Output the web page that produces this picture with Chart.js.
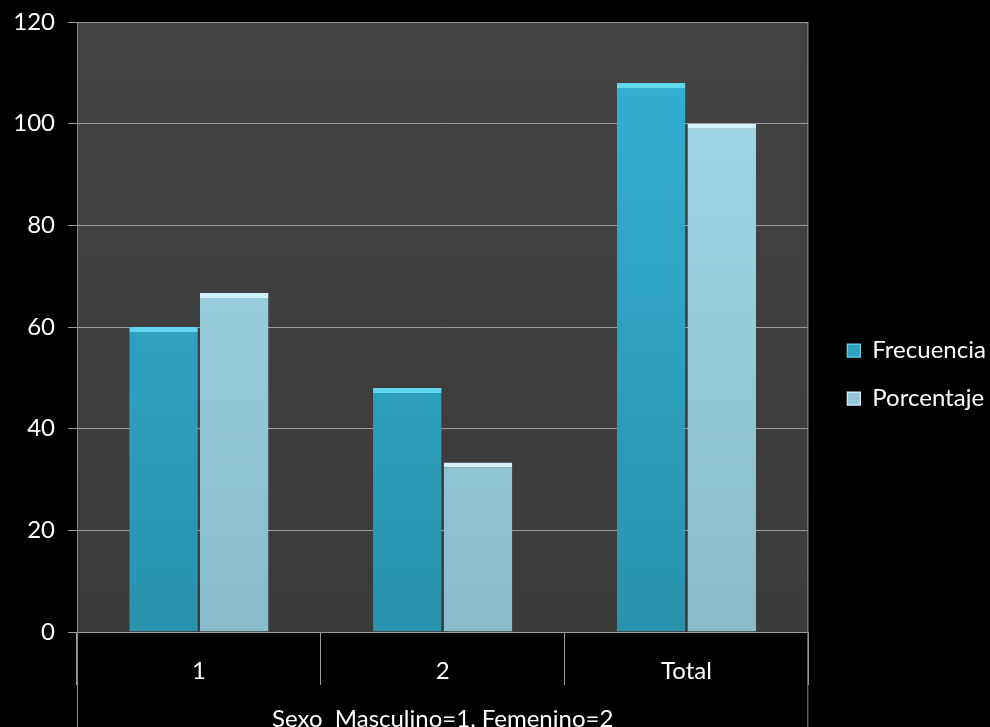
<!DOCTYPE html>
<html lang="es">
<head>
<meta charset="UTF-8">
<title>Sexo</title>
<script src="https://cdn.jsdelivr.net/npm/chart.js"></script>
<style>
  html, body { margin: 0; padding: 0; background: #000; }
  #wrap { width: 990px; height: 727px; }
</style>
</head>
<body>
<div id="wrap"><canvas id="chart" width="990" height="727"></canvas></div>
<script>
// datos
const categories = ['1', '2', 'Total']
const frecuencia = [60, 48, 108]
const porcentaje = [66.67, 33.33, 100]
const seriesNames = ['Frecuencia', 'Porcentaje']
const xTitle = 'Sexo  Masculino=1, Femenino=2'

const FONT = 'Lato, "Open Sans", sans-serif'

// degradado vertical para las barras (mas oscuro abajo)
function barFill(top, bottom) {
  return (c) => {
    const a = c.chart.chartArea
    if (!a) return top
    const g = c.chart.ctx.createLinearGradient(0, a.top, 0, a.bottom)
    g.addColorStop(0, top)
    g.addColorStop(1, bottom)
    return g
  }
}

// fondo del area de trazado + bordes laterales que bajan hasta abajo
const plotBg = {
  id: 'plotBg',
  beforeDraw(chart) {
    const {ctx, chartArea: a} = chart
    const g = ctx.createLinearGradient(0, a.top, 0, a.bottom)
    g.addColorStop(0, '#434343')
    g.addColorStop(1, '#3b3b3b')
    ctx.save()
    ctx.fillStyle = g
    ctx.fillRect(a.left, a.top, a.right - a.left, a.bottom - a.top)
    ctx.restore()
  },
  afterDraw(chart) {
    const {ctx, chartArea: a} = chart
    ctx.save()
    ctx.strokeStyle = '#8a8a8a'
    ctx.lineWidth = 1
    ctx.beginPath()
    ctx.moveTo(a.left + 0.5, a.top)
    ctx.lineTo(a.left + 0.5, chart.height)
    ctx.moveTo(a.right - 0.5, a.top)
    ctx.lineTo(a.right - 0.5, chart.height)
    ctx.stroke()
    ctx.restore()
  }
}

// hueco entre el area de trazado y la leyenda
const legendGap = {
  id: 'legendGap',
  beforeInit(chart) {
    Chart.layouts.addBox(chart, {
      position: 'right',
      weight: 500,
      fullSize: false,
      options: {},
      top: 0, left: 0, right: 0, bottom: 0, width: 0, height: 0,
      isHorizontal() { return false },
      update(maxWidth, maxHeight) { this.width = 15; this.height = maxHeight },
      draw() {}
    })
  }
}

new Chart(document.getElementById('chart'), {
  type: 'bar',
  data: {
    labels: categories,
    datasets: [
      {
        label: seriesNames[0],
        data: frecuencia,
        backgroundColor: barFill('#34b1d3', '#2992ac'),
        borderColor: '#62d6ee',
        borderWidth: {top: 5, left: 0, right: 0, bottom: 0},
        borderSkipped: false,
        categoryPercentage: 0.58,
        barPercentage: 0.97
      },
      {
        label: seriesNames[1],
        data: porcentaje,
        backgroundColor: barFill('#a4d9ec', '#88bccc'),
        borderColor: '#d2f1fb',
        borderWidth: {top: 5, left: 0, right: 0, bottom: 0},
        borderSkipped: false,
        categoryPercentage: 0.58,
        barPercentage: 0.97
      }
    ]
  },
  options: {
    responsive: false,
    animation: false,
    layout: { padding: { top: 22, left: 0, right: 2, bottom: 0 } },
    plugins: {
      tooltip: { enabled: false },
      legend: {
        position: 'right',
        labels: {
          color: '#fff',
          font: { family: FONT, size: 24 },
          boxWidth: 13,
          boxHeight: 13,
          padding: 24
        }
      }
    },
    scales: {
      x: {
        afterFit(s) {
          s.height = 95
          s.paddingLeft = 0
          s.paddingRight = 0
        },
        grid: {
          offset: true,
          drawOnChartArea: false,
          tickLength: 53,
          color: '#9a9a9a'
        },
        border: { color: '#a0a0a0' },
        ticks: {
          color: '#fff',
          font: { family: FONT, size: 24 },
          padding: -28
        },
        title: {
          display: true,
          text: xTitle,
          color: '#fff',
          font: { family: FONT, size: 24 },
          padding: { top: 0, bottom: -7 }
        }
      },
      y: {
        min: 0,
        max: 120,
        afterFit(s) {
          s.width = 77
          s.paddingTop = 0
          s.paddingBottom = 0
        },
        grid: { color: '#9c9c9c', tickLength: 9 },
        border: { color: '#8a8a8a' },
        ticks: {
          stepSize: 20,
          color: '#fff',
          font: { family: FONT, size: 24 },
          padding: 13
        }
      }
    }
  },
  plugins: [plotBg, legendGap]
})
</script>
</body>
</html>
